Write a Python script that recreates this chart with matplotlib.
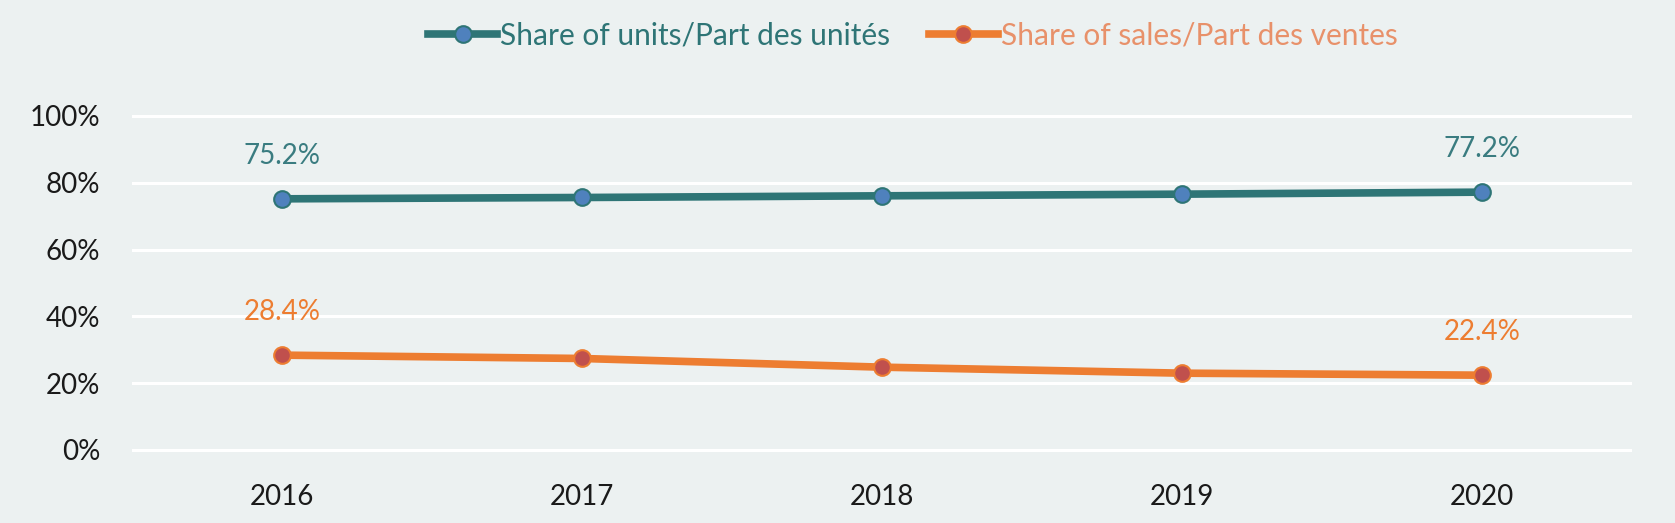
import matplotlib
matplotlib.use('Agg')
import matplotlib.pyplot as plt
from matplotlib.ticker import PercentFormatter

years = ['2016', '2017', '2018', '2019', '2020']
share_units = [75.2, 75.6, 76.1, 76.6, 77.2]
share_sales = [28.4, 27.4, 24.8, 23.0, 22.4]
yticks = [0, 20, 40, 60, 80, 100]

BG = '#ecf1f1'
TEAL = '#2e7576'
BLUE = '#4f81bd'
ORANGE = '#ed7d31'
RED = '#c0504d'

plt.rcParams['font.family'] = ['Lato', 'DejaVu Sans']

fig = plt.figure(figsize=(16.75, 5.23), dpi=100, facecolor=BG)
ax = fig.add_axes([0.0788, 0.1332, 0.8955, 0.6514], facecolor=BG)

x = list(range(len(years)))
ax.plot(x, share_units, color=TEAL, lw=5.5, marker='o', ms=12,
        mfc=BLUE, mec=TEAL, mew=1.5, label='Share of units/Part des unités', zorder=3)
ax.plot(x, share_sales, color=ORANGE, lw=5.5, marker='o', ms=12,
        mfc=RED, mec=ORANGE, mew=1.5, label='Share of sales/Part des ventes', zorder=3)

# labels only on the first and last points
for i in [0, len(years) - 1]:
    ax.annotate(f'{share_units[i]:.1f}%', (x[i], share_units[i]), xytext=(0, 31),
                textcoords='offset points', ha='center', va='center',
                fontsize=20, color='#3a7c80')
    ax.annotate(f'{share_sales[i]:.1f}%', (x[i], share_sales[i]), xytext=(0, 31),
                textcoords='offset points', ha='center', va='center',
                fontsize=20, color=ORANGE)

ax.set_xlim(-0.5, len(years) - 0.5)
ax.set_ylim(-1, 101)
ax.set_xticks(x)
ax.set_xticklabels(years)
ax.set_yticks(yticks)
ax.yaxis.set_major_formatter(PercentFormatter(decimals=0))
ax.tick_params(axis='both', length=0, labelsize=20, labelcolor='#1a1a1a')
ax.tick_params(axis='y', pad=23)
ax.tick_params(axis='x', pad=22)
ax.grid(axis='y', color='white', lw=2.2)
ax.set_axisbelow(True)
for s in ax.spines.values():
    s.set_visible(False)

leg = fig.legend(loc='center', bbox_to_anchor=(0.545, 0.933), ncol=2, frameon=False,
                 fontsize=21.5, handlelength=2.3, handletextpad=0.1, columnspacing=1.3)
for t, c in zip(leg.get_texts(), [TEAL, '#e8916a']):
    t.set_color(c)

fig.savefig('out.png', dpi=100, facecolor=BG)
